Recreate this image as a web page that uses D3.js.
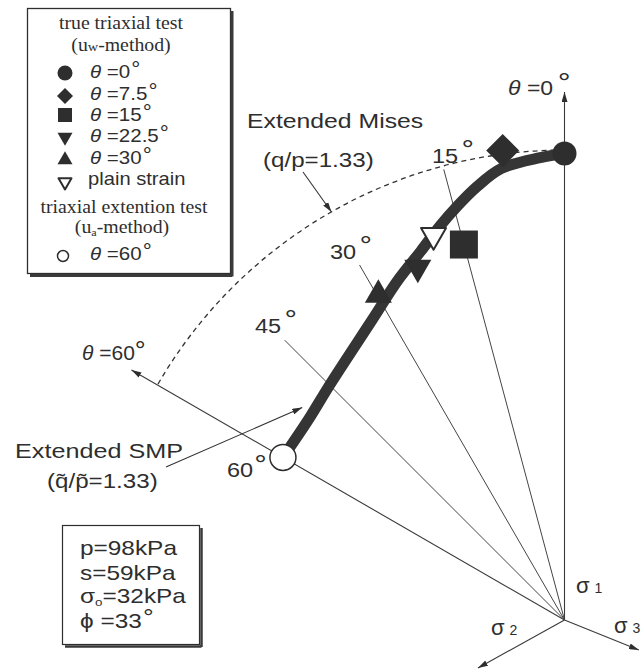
<!DOCTYPE html>
<html>
<head>
<meta charset="utf-8">
<script src="https://cdn.jsdelivr.net/npm/d3@7"></script>
<style>
  html, body { margin: 0; padding: 0; background: #fff; }
  svg { display: block; }
</style>
</head>
<body>
<div id="chart"></div>
<script>
// q/p ratio of the extended Mises criterion (dashed circle)
const misesRatio = 1.33;

// extended SMP failure locus: lode angle (deg) and q/p
const locusTheta = [0, 3, 8, 11.5, 14.5, 17.5, 21.3, 26.2, 32.5, 45, 52, 60];
const locusRatio = [1.32, 1.31, 1.29, 1.25, 1.21, 1.17, 1.12, 1.07, 1.01, 0.94, 0.92, 0.92];

// test results
const testKinds = ['circle', 'diamond', 'square', 'down', 'up', 'plain', 'open'];
const testNames = ['0', '7.5', '15', '22.5', '30', 'plain strain', '60'];
const testTheta = [0, 7.5, 15, 22.6, 29.8, 18.8, 60];
const testRatio = [1.32, 1.34, 1.10, 1.08, 1.06, 1.15, 0.92];

// radial guide lines
const guideTheta = [15, 30, 45];
const guideLen = [1.32, 1.16, 1.12];
const guideNames = ['15', '30', '45'];

// axes: theta=0 (sigma1), theta=60, sigma2, sigma3
const axisTheta = [0, 60, 119, -112];
const axisLen = [1.494, 1.415, 0.28, 0.227];

// parameters box
const paramLines = ['p=98kPa', 's=59kPa', 'σ0=32kPa', 'ϕ =33°'];

const width = 642, height = 669;
const origin = { x: 564.5, y: 620 };
const ink = '#2e2e2e';
const sans = "'Liberation Sans', Arial, sans-serif";
const serif = "'Liberation Serif', 'Times New Roman', serif";

const svg = d3.select('#chart').append('svg')
    .attr('width', width)
    .attr('height', height);

// arrow heads
const defs = svg.append('defs');
defs.append('marker')
    .attr('id', 'arrow')
    .attr('viewBox', '0 0 10 6')
    .attr('refX', 10)
    .attr('refY', 3)
    .attr('markerUnits', 'userSpaceOnUse')
    .attr('markerWidth', 10)
    .attr('markerHeight', 6)
    .attr('orient', 'auto')
    .append('path')
    .attr('d', 'M0,0 L10,3 L0,6 Z')
    .attr('fill', ink);

// radius scale: q/p -> px
const rScale = d3.scaleLinear().domain([0, misesRatio]).range([0, 470]);

const polar = (theta, ratio) => {
    const a = theta * Math.PI / 180;
    const r = rScale(ratio);
    return [-r * Math.sin(a), -r * Math.cos(a)];
};

const plot = svg.append('g').attr('transform', `translate(${origin.x},${origin.y})`);

// axes
axisTheta.forEach((t, i) => {
    const [x, y] = polar(t, axisLen[i]);
    plot.append('line')
        .attr('x1', 0).attr('y1', 0)
        .attr('x2', x).attr('y2', y)
        .attr('stroke', '#3a3a3a')
        .attr('stroke-width', 1.1)
        .attr('marker-end', 'url(#arrow)');
});

// guide lines
guideTheta.forEach((t, i) => {
    const [x, y] = polar(t, guideLen[i]);
    plot.append('line')
        .attr('x1', 0).attr('y1', 0)
        .attr('x2', x).attr('y2', y)
        .attr('stroke', '#444')
        .attr('stroke-width', 1);
});

// extended Mises (dashed arc)
const arcPath = d3.path();
arcPath.arc(0, 0, rScale(misesRatio), -Math.PI / 2, -Math.PI / 2 - Math.PI / 3, true);
plot.append('path')
    .attr('d', arcPath.toString())
    .attr('fill', 'none')
    .attr('stroke', '#333')
    .attr('stroke-width', 1.3)
    .attr('stroke-dasharray', '5,4');

// extended SMP locus
const locus = d3.zip(locusTheta, locusRatio);
plot.append('path')
    .datum(locus)
    .attr('d', d3.lineRadial()
        .angle(d => -d[0] * Math.PI / 180)
        .radius(d => rScale(d[1]))
        .curve(d3.curveCatmullRom.alpha(0.5)))
    .attr('fill', 'none')
    .attr('stroke', '#353535')
    .attr('stroke-width', 11)
    .attr('stroke-linecap', 'round');

// symbols
function drawSymbol(g, kind, x, y, size) {
    const h = size * 0.866;
    if (kind === 'circle') {
        g.append('circle').attr('cx', x).attr('cy', y).attr('r', size / 2).attr('fill', ink);
    } else if (kind === 'open') {
        g.append('circle').attr('cx', x).attr('cy', y).attr('r', size / 2)
            .attr('fill', '#fff').attr('stroke', ink).attr('stroke-width', 1.5);
    } else if (kind === 'diamond') {
        const s = size / Math.SQRT2;
        g.append('rect').attr('x', -s / 2).attr('y', -s / 2).attr('width', s).attr('height', s)
            .attr('transform', `translate(${x},${y}) rotate(45)`).attr('fill', ink);
    } else if (kind === 'square') {
        g.append('rect').attr('x', x - size / 2).attr('y', y - size / 2)
            .attr('width', size).attr('height', size).attr('fill', ink);
    } else {
        const dir = kind === 'up' ? 1 : -1;
        const pts = [[0, -dir * 2 * h / 3], [size / 2, dir * h / 3], [-size / 2, dir * h / 3]];
        const p = g.append('path')
            .attr('d', 'M' + pts.map(q => q.join(',')).join('L') + 'Z')
            .attr('transform', `translate(${x},${y})`);
        if (kind === 'plain') {
            p.attr('fill', '#fff').attr('stroke', ink).attr('stroke-width', 2).attr('stroke-linejoin', 'round');
        } else {
            p.attr('fill', ink);
        }
    }
}

const plotSizes = { circle: 24, diamond: 33, square: 28, down: 27, up: 27, plain: 25, open: 26 };
testKinds.forEach((k, i) => {
    const [x, y] = polar(testTheta[i], testRatio[i]);
    drawSymbol(plot, k, x, y, plotSizes[k]);
});

// text helper: x,y = baseline start, sx = horizontal stretch of the scanned type
function addText(x, y, size, sx, family, anchor) {
    return svg.append('text')
        .attr('transform', `translate(${x},${y}) scale(${sx},1)`)
        .attr('font-family', family)
        .attr('font-size', size)
        .attr('text-anchor', anchor || 'start')
        .attr('fill', ink);
}

function degree(t, size, dx, dy) {
    t.append('tspan').attr('dx', dx).attr('dy', dy).attr('font-size', size).text('°');
}

function thetaLabel(x, y, size, sx, value, degSize, degDx, degDy) {
    const t = addText(x, y, size, sx, sans);
    t.append('tspan').attr('font-style', 'italic').text('θ');
    t.append('tspan').text(' =' + value);
    degree(t, degSize, degDx, degDy);
    return t;
}

// annotation arrows
const arrowLine = (x1, y1, x2, y2) => svg.append('line')
    .attr('x1', x1).attr('y1', y1).attr('x2', x2).attr('y2', y2)
    .attr('stroke', '#333').attr('stroke-width', 1.1)
    .attr('marker-end', 'url(#arrow)');

const misesTip = polar(30, misesRatio);
arrowLine(303, 172, origin.x + misesTip[0] + 2, origin.y + misesTip[1] - 1);
const smpTip = polar(51, 0.955);
arrowLine(166, 467, origin.x + smpTip[0], origin.y + smpTip[1]);

// main labels
addText(247, 128, 21, 1.18, sans).text('Extended Mises');
addText(263, 167, 21, 1.15, sans).text('(q/p=1.33)');
addText(15, 458, 21, 1.2, sans).text('Extended SMP');
addText(47, 488, 21, 1.15, sans).text('(q\u0303/p\u0303=1.33)');

thetaLabel(508, 95, 20, 1.15, '0', 28, 4, -3);
thetaLabel(82, 360, 20, 1.05, '60', 26, 0, -1);

const guideLabelPos = [[432, 163], [330, 259], [255, 333]];
guideNames.forEach((n, i) => {
    const t = addText(guideLabelPos[i][0], guideLabelPos[i][1], 21, 1.12, sans).text(n);
    degree(t, 28, 3, -4);
});
{
    const t = addText(227, 477, 21, 1.12, sans).text('60');
    degree(t, 28, 1, -3);
}

// principal stress labels
const sigma = (x, y, sub) => {
    const t = addText(x, y, 22, 1, sans);
    t.append('tspan').text('σ');
    t.append('tspan').attr('dx', 5).attr('font-size', 14).text(sub);
};
sigma(576, 593, '1');
sigma(491, 635, '2');
sigma(614, 633, '3');

// legend box
const legend = svg.append('g');
legend.append('rect').attr('x', 27.5).attr('y', 8.5).attr('width', 203).attr('height', 265)
    .attr('fill', '#fff').attr('stroke', ink).attr('stroke-width', 1.3);
legend.append('path').attr('d', 'M30,275.5 H232 M232,11 V276.5')
    .attr('stroke', '#3a3a3a').attr('stroke-width', 3).attr('fill', 'none');

addText(121, 29, 18, 1.1, serif, 'middle').text('true triaxial test');
{
    const t = addText(121, 51, 18, 1.1, serif, 'middle');
    t.append('tspan').text('(u');
    t.append('tspan').attr('font-size', 13).text('w');
    t.append('tspan').text('-method)');
}
addText(124, 213, 18, 1.1, serif, 'middle').text('triaxial extention test');
{
    const t = addText(122, 233, 18, 1.1, serif, 'middle');
    t.append('tspan').text('(u');
    t.append('tspan').attr('font-size', 11).attr('dy', 3).text('a');
    t.append('tspan').attr('dy', -3).text('-method)');
}

const legendSizes = { circle: 15, diamond: 16, square: 14, down: 15, up: 15, plain: 13, open: 11 };
const legendSymbolY = [73, 96, 115, 137, 160, 182, 256];
const legendTextY = [78, 100, 121, 142, 164, 185, 260];
testKinds.forEach((k, i) => {
    drawSymbol(legend, k, k === 'open' ? 63 : 65, legendSymbolY[i], legendSizes[k]);
    if (k === 'plain') {
        addText(88, legendTextY[i], 18, 1.12, sans).text(testNames[i]);
    } else {
        thetaLabel(90, legendTextY[i], 19, 1.08, testNames[i], 21, 1, -2);
    }
});

// parameters box
svg.append('rect').attr('x', 62.5).attr('y', 525.5).attr('width', 137).attr('height', 119)
    .attr('fill', '#fff').attr('stroke', ink).attr('stroke-width', 1.2);
svg.append('path').attr('d', 'M65,646.5 H201.5 M201.5,528 V647')
    .attr('stroke', '#3a3a3a').attr('stroke-width', 2.5).attr('fill', 'none');

const paramY = [555, 580, 603, 628];
paramLines.forEach((line, i) => {
    const t = addText(80, paramY[i], 20, 1.22, sans);
    if (line.startsWith('σ0')) {
        t.append('tspan').text('σ');
        t.append('tspan').attr('font-size', 11).attr('dy', 3).text('o');
        t.append('tspan').attr('dy', -3).text(line.slice(2));
    } else if (line.endsWith('°')) {
        t.append('tspan').text(line.slice(0, -1));
        degree(t, 22, 1, -3);
    } else {
        t.text(line);
    }
});
</script>
</body>
</html>
